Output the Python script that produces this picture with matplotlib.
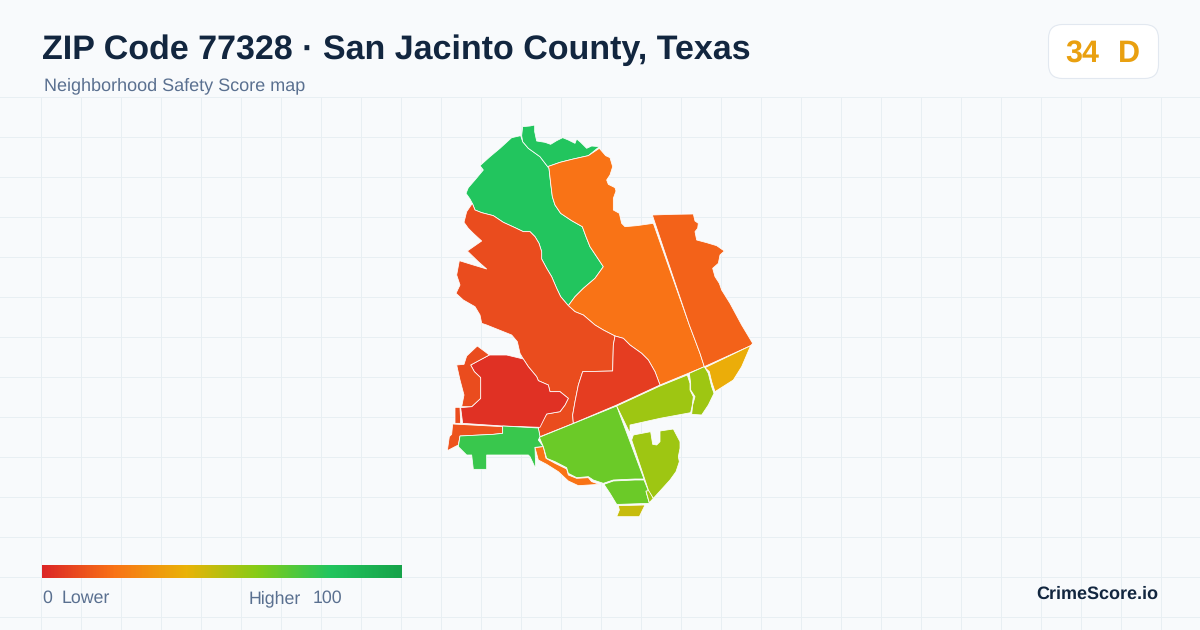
import numpy as np
import matplotlib
matplotlib.use("Agg")
import matplotlib.pyplot as plt
from matplotlib.colors import LinearSegmentedColormap
from matplotlib.patches import FancyBboxPatch, Polygon

plt.rcParams['font.family'] = ['Liberation Sans', 'DejaVu Sans']
plt.rcParams['text.hinting'] = 'none'

# text
title = "ZIP Code 77328 · San Jacinto County, Texas"
subtitle = "Neighborhood Safety Score map"
badge_score = "34"
badge_grade = "D"
brand = "CrimeScore.io"

# legend colours
stop_pos = [0, 0.2, 0.4, 0.6, 0.8, 1]
stop_col = ['#dc2626', '#f97316', '#eab308', '#84cc16', '#22c55e', '#16a34a']

# map shapes (map units, y down)
north_big = [(242,62),(215,68),(180,100),(150,125),(120,152),(130,165),(105,195),(85,218),(78,235),(90,252),(97,265),(105,285),(125,293),(160,302),(190,322),(225,338),(250,350),(270,350),(285,365),(297,385),(305,410),(305,432),(320,460),(335,485),(350,520),(362,545),(385,572),(405,545),(430,520),(465,490),(490,455),(470,425),(450,395),(438,365),(427,335),(395,317),(362,295),(345,270),(337,245),(332,205),(327,160),(300,125),(265,100),(248,80)]
north_top = [(248,35),(270,33),(284,30),(284,50),(290,78),(315,82),(332,88),(350,77),(368,68),(385,75),(405,85),(410,72),(422,82),(440,100),(455,93),(478,95),(445,122),(400,132),(360,142),(323,155),(300,125),(265,100),(248,80),(245,62)]
orange_big = [(323,155),(360,142),(400,132),(445,122),(478,100),(497,122),(510,128),(518,155),(510,180),(500,195),(505,208),(525,218),(528,228),(520,250),(520,285),(538,295),(545,325),(555,335),(590,332),(640,325),(748,630),(765,675),(780,715),(793,755),(660,810),(645,770),(625,735),(605,715),(570,690),(550,670),(525,663),(490,645),(465,630),(430,600),(405,590),(385,572),(405,545),(430,520),(465,490),(490,455),(470,425),(450,395),(438,365),(427,335),(395,317),(362,295),(345,270),(337,245),(332,205),(327,160)]
east = [(637,300),(700,298),(760,297),(765,318),(775,325),(773,340),(765,350),(770,375),(800,383),(830,392),(853,408),(840,420),(835,445),(818,460),(825,485),(838,505),(845,525),(870,565),(905,630),(938,685),(932,692),(793,755),(780,715),(765,675),(748,630)]
west = [(97,265),(105,285),(125,293),(160,302),(190,322),(225,338),(250,350),(270,350),(285,365),(297,385),(305,410),(305,432),(320,460),(335,485),(350,520),(362,545),(385,572),(405,590),(430,600),(465,630),(490,645),(525,663),(520,690),(518,768),(428,770),(415,810),(405,860),(398,900),(400,925),(300,965),(295,940),(320,897),(360,890),(375,870),(385,850),(360,830),(330,830),(325,810),(295,797),(290,785),(265,755),(250,732),(240,715),(232,680),(215,660),(165,640),(140,630),(125,625),(120,600),(105,575),(70,555),(48,535),(60,510),(50,480),(58,437),(100,450),(140,462),(115,440),(82,408),(125,378),(100,355),(85,340),(72,322),(80,290)]
se_red = [(525,663),(550,670),(570,690),(605,715),(625,735),(645,770),(660,810),(530,870),(400,925),(398,900),(405,860),(415,810),(428,770),(518,768),(520,690)]
big_red = [(148,720),(200,720),(250,732),(265,755),(290,785),(295,797),(325,810),(330,830),(360,830),(385,850),(375,870),(360,890),(320,897),(300,937),(188,933),(68,925),(62,878),(95,875),(122,850),(122,788),(103,770),(92,750)]
west_small = [(112,693),(135,710),(148,720),(92,750),(103,770),(122,788),(122,850),(95,875),(65,875),(72,840),(60,795),(50,750),(72,748),(80,723)]
west_rect = [(45,877),(60,877),(62,925),(45,925)]
west_strip = [(38,927),(188,935),(188,955),(160,958),(60,963),(55,990),(45,995),(22,1007),(28,965),(35,958)]
green_west = [(188,933),(295,939),(300,965),(295,975),(310,995),(285,997),(287,1061),(270,1025),(265,1020),(140,1020),(140,1063),(100,1063),(95,1020),(80,1020),(60,1000),(55,995),(60,963),(160,958),(188,955)]
orange_strip = [(285,998),(310,995),(318,1030),(345,1045),(380,1062),(385,1080),(410,1090),(445,1088),(455,1100),(478,1108),(415,1112),(385,1098),(355,1070),(320,1048),(295,1035)]
lime_center = [(298,967),(530,873),(612,1092),(585,1092),(520,1095),(490,1105),(460,1095),(445,1085),(410,1088),(385,1075),(380,1058),(345,1040),(320,1030),(310,995)]
south_green = [(492,1108),(520,1098),(585,1095),(612,1095),(625,1127),(618,1130),(628,1165),(540,1168),(530,1168),(510,1135)]
south_tiny = [(618,1128),(628,1127),(640,1150),(628,1163)]
south_olive = [(535,1172),(615,1170),(598,1205),(530,1205),(538,1185)]
lime_mid = [(530,873),(660,813),(742,780),(750,805),(750,825),(760,845),(757,870),(752,893),(660,910),(570,930),(570,950),(575,965)]
lime_east = [(748,775),(793,755),(805,775),(815,815),(822,835),(805,870),(785,900),(755,898),(758,870),(765,845),(752,825),(752,805)]
yellow_tip = [(795,758),(932,692),(905,755),(880,795),(825,830),(815,800),(808,770)]
lime_se = [(580,960),(632,950),(638,988),(650,990),(660,980),(660,948),(700,942),(720,980),(720,1000),(715,1025),(718,1040),(708,1070),(690,1095),(640,1150),(625,1125),(575,975)]

shapes = [north_big, north_top, orange_big, east, west, se_red, big_red, west_small, west_rect,
          west_strip, green_west, orange_strip, lime_center, south_green, south_tiny, south_olive,
          lime_mid, lime_east, yellow_tip, lime_se]
scores = [80, 80, 20, 16, 10, 6, 3, 10, 10,
          12, 75, 20, 65, 65, 55, 47,
          55, 55, 38, 55]

cmap = LinearSegmentedColormap.from_list('score', list(zip(stop_pos, stop_col)))

fig = plt.figure(figsize=(12, 6.3), dpi=100, facecolor='#f8fafc')

# page axes in pixels
bg = fig.add_axes([0, 0, 1, 1])
bg.set_xlim(0, 1200)
bg.set_ylim(630, 0)
bg.axis('off')

for x in range(40, 1200, 40):
    bg.plot([x + 0.5, x + 0.5], [97, 630], color='#e8eff3', lw=0.72, zorder=1)
for y in range(96, 630, 40):
    bg.plot([0, 1200], [y + 0.5, y + 0.5], color='#e8eff3', lw=0.72, zorder=1)

bg.text(42, 58.5, title, fontsize=24.47, fontweight='bold', color='#12263f', va='baseline', ha='left')
bg.text(44, 90, subtitle, fontsize=12.95, color='#5a7090', va='baseline', ha='left')

badge = FancyBboxPatch((1048.5, 24.5), 110, 54, boxstyle='round,pad=0,rounding_size=14',
                       fc='white', ec='#e2e8f0', lw=0.8, zorder=3)
bg.add_patch(badge)
bg.text(1065.5, 62, badge_score, fontsize=22, fontweight='bold', color='#e9a010', va='baseline', ha='left', zorder=4)
bg.text(1118, 62, badge_grade, fontsize=22, fontweight='bold', color='#e9a010', va='baseline', ha='left', zorder=4)

# legend bar
grad = np.linspace(0, 1, 360).reshape(1, -1)
bg.imshow(grad, cmap=cmap, extent=[42, 402, 578, 565], aspect='auto', zorder=3)
bg.set_xlim(0, 1200)
bg.set_ylim(630, 0)
bg.text(42, 603, "0", fontsize=12.8, color='#5a7090', va='baseline', ha='left', zorder=3)
bg.text(62, 603, "Lower", fontsize=12.8, color='#5a7090', va='baseline', ha='left', zorder=3)
bg.text(249, 603, "Higher", fontsize=12.8, color='#5a7090', va='baseline', ha='left', zorder=3)
bg.text(313, 603, "100", fontsize=12.8, color='#5a7090', va='baseline', ha='left', zorder=3)
bg.text(1158, 598.5, brand, fontsize=13, fontweight='bold', color='#12263f', va='baseline', ha='right', zorder=3)

# map axes: 3 map units per pixel
ax = fig.add_axes([440 / 1200, 1 - 535 / 630, 330 / 1200, 420 / 630])
ax.set_xlim(0, 990)
ax.set_ylim(1260, 0)
ax.axis('off')
ax.patch.set_alpha(0)

for pts, s in zip(shapes, scores):
    ax.add_patch(Polygon(pts, closed=True, fc=cmap(s / 100), ec='white', lw=0.55, joinstyle='round'))

fig.savefig('out.png', dpi=100, facecolor=fig.get_facecolor())
